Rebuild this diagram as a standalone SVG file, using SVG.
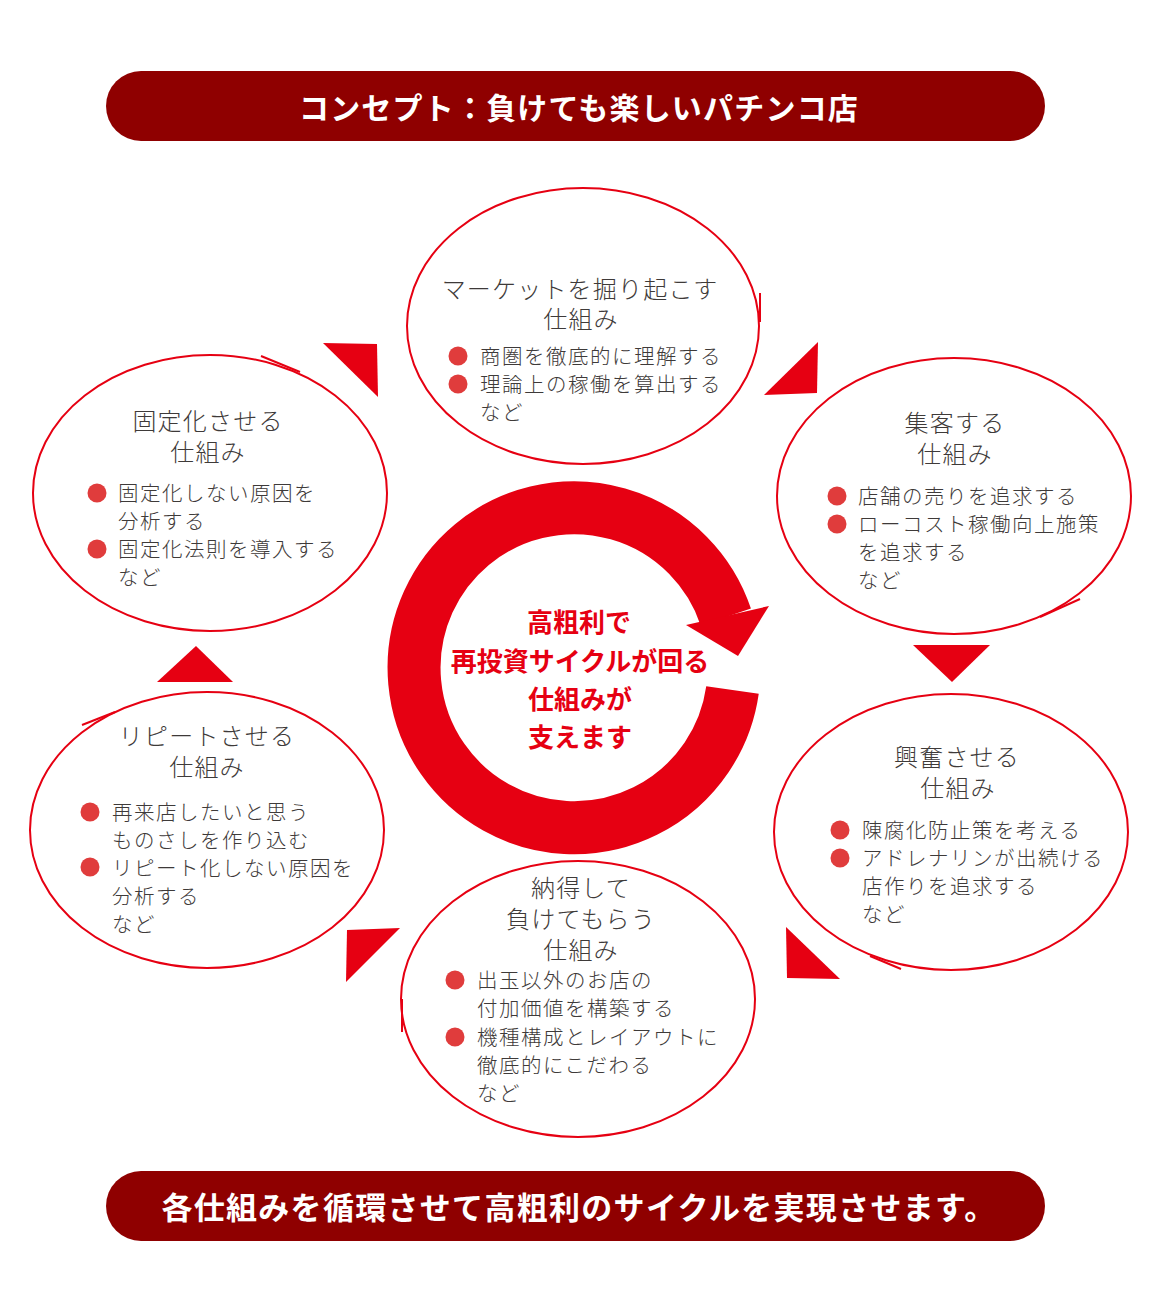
<svg xmlns="http://www.w3.org/2000/svg" width="1160" height="1314" viewBox="0 0 1160 1314">
<style>
.bn{fill:#8f0000}
.bt{fill:#fff;font-family:"Noto Sans CJK JP","Noto Sans CJK SC",sans-serif;font-weight:700;text-anchor:middle}
.el{fill:#fff;stroke:#e60012;stroke-width:2}
.tl{fill:none;stroke:#e60012;stroke-width:2}
.ti{fill:#3e3a39;font-family:"Noto Sans CJK JP","Noto Sans CJK SC",sans-serif;font-weight:300;font-size:24px;letter-spacing:1.2px;text-anchor:middle}
.tx{fill:#3e3a39;font-family:"Noto Sans CJK JP","Noto Sans CJK SC",sans-serif;font-weight:300;font-size:20.5px;letter-spacing:1.5px}
.dot{fill:#e03c3c}
.tri{fill:#e60012}
.ct{fill:#e60012;font-family:"Noto Sans CJK JP","Noto Sans CJK SC",sans-serif;font-weight:700;font-size:26px;text-anchor:middle}
</style>
<rect width="1160" height="1314" fill="#fff"/>

<g id="banner-top">
<rect class="bn" x="106" y="71" width="939" height="70" rx="35"/>
<text class="bt" x="579" y="119" font-size="30" letter-spacing="1.2">コンセプト：負けても楽しいパチンコ店</text>
</g>

<g id="cycle">
<path d="M732.5,690 A160,160 0 1 1 725.8,617" fill="none" stroke="#e60012" stroke-width="53"/>
<polygon points="686,625 769,606 738,656" fill="#e60012"/>
<text class="ct" x="579" y="632">高粗利で</text>
<text class="ct" x="580" y="671">再投資サイクルが回る</text>
<text class="ct" x="580" y="709">仕組みが</text>
<text class="ct" x="580" y="747">支えます</text>
</g>

<g id="connectors">
<polygon class="tri" points="323,343 377,344 378,397"/>
<polygon class="tri" points="818,342 817,393 764,395"/>
<polygon class="tri" points="913,645 990,645 952,682"/>
<polygon class="tri" points="786,927 787,978 840,979"/>
<polygon class="tri" points="347,930 400,928 346,982"/>
<polygon class="tri" points="157,682 233,682 196,646"/>
</g>

<g id="node-market">
<ellipse class="el" cx="583" cy="326" rx="176" ry="138"/>
<path class="tl" d="M760,293 L760,322"/>
<text class="ti" x="580" y="298">マーケットを掘り起こす</text>
<text class="ti" x="581" y="328">仕組み</text>
<circle class="dot" cx="458" cy="356" r="9.5"/>
<text class="tx" x="480" y="364">商圏を徹底的に理解する</text>
<circle class="dot" cx="458" cy="384" r="9.5"/>
<text class="tx" x="480" y="392">理論上の稼働を算出する</text>
<text class="tx" x="480" y="420">など</text>
</g>

<g id="node-shukyaku">
<ellipse class="el" cx="954" cy="496" rx="177" ry="138"/>
<path class="tl" d="M1080,599 L1040,617"/>
<text class="ti" x="955" y="432">集客する</text>
<text class="ti" x="955" y="463">仕組み</text>
<circle class="dot" cx="837" cy="496" r="9.5"/>
<text class="tx" x="858" y="504">店舗の売りを追求する</text>
<circle class="dot" cx="837" cy="524" r="9.5"/>
<text class="tx" x="858" y="532">ローコスト稼働向上施策</text>
<text class="tx" x="858" y="560">を追求する</text>
<text class="tx" x="858" y="588">など</text>
</g>

<g id="node-kofun">
<ellipse class="el" cx="951" cy="832" rx="177" ry="138"/>
<path class="tl" d="M870,956 L901,969"/>
<text class="ti" x="957" y="766">興奮させる</text>
<text class="ti" x="958" y="797">仕組み</text>
<circle class="dot" cx="840" cy="830" r="9.5"/>
<text class="tx" x="862" y="838">陳腐化防止策を考える</text>
<circle class="dot" cx="840" cy="858" r="9.5"/>
<text class="tx" x="862" y="866">アドレナリンが出続ける</text>
<text class="tx" x="862" y="894">店作りを追求する</text>
<text class="tx" x="862" y="922">など</text>
</g>

<g id="node-nattoku">
<ellipse class="el" cx="578" cy="999" rx="177" ry="138"/>
<path class="tl" d="M402,999 L402,1032"/>
<text class="ti" x="581" y="897">納得して</text>
<text class="ti" x="581" y="928">負けてもらう</text>
<text class="ti" x="581" y="959">仕組み</text>
<circle class="dot" cx="455" cy="980" r="9.5"/>
<text class="tx" x="477" y="988">出玉以外のお店の</text>
<text class="tx" x="477" y="1016">付加価値を構築する</text>
<circle class="dot" cx="455" cy="1037" r="9.5"/>
<text class="tx" x="477" y="1045">機種構成とレイアウトに</text>
<text class="tx" x="477" y="1073">徹底的にこだわる</text>
<text class="tx" x="477" y="1101">など</text>
</g>

<g id="node-repeat">
<ellipse class="el" cx="207" cy="830" rx="177" ry="138"/>
<path class="tl" d="M82,725 L115,712"/>
<text class="ti" x="207" y="745">リピートさせる</text>
<text class="ti" x="207" y="776">仕組み</text>
<circle class="dot" cx="90" cy="812" r="9.5"/>
<text class="tx" x="112" y="820">再来店したいと思う</text>
<text class="tx" x="112" y="848">ものさしを作り込む</text>
<circle class="dot" cx="90" cy="867" r="9.5"/>
<text class="tx" x="112" y="876">リピート化しない原因を</text>
<text class="tx" x="112" y="904">分析する</text>
<text class="tx" x="112" y="932">など</text>
</g>

<g id="node-kotei">
<ellipse class="el" cx="210" cy="493" rx="177" ry="138"/>
<path class="tl" d="M261,356 L300,372"/>
<text class="ti" x="208" y="430">固定化させる</text>
<text class="ti" x="208" y="461">仕組み</text>
<circle class="dot" cx="97" cy="493" r="9.5"/>
<text class="tx" x="118" y="501">固定化しない原因を</text>
<text class="tx" x="118" y="529">分析する</text>
<circle class="dot" cx="97" cy="549" r="9.5"/>
<text class="tx" x="118" y="557">固定化法則を導入する</text>
<text class="tx" x="118" y="585">など</text>
</g>

<g id="banner-bottom">
<rect class="bn" x="106" y="1171" width="939" height="70" rx="35"/>
<text class="bt" x="579" y="1219" font-size="31" letter-spacing="1.3">各仕組みを循環させて高粗利のサイクルを実現させます。</text>
</g>
</svg>
